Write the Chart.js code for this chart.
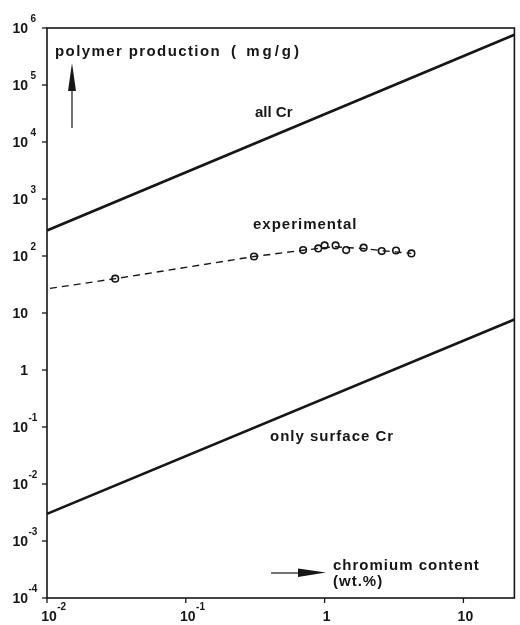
<!DOCTYPE html>
<html>
<head>
<meta charset="utf-8">
<title>Polymer production vs chromium content</title>
<script src="https://cdn.jsdelivr.net/npm/chart.js@4/dist/chart.umd.min.js"></script>
<style>
  html, body { margin: 0; padding: 0; background: #fff; }
  canvas { display: block; }
</style>
</head>
<body>
<canvas id="chart" width="520" height="625"></canvas>
<script>
// theoretical lines (all Cr active / only surface Cr active)
const allCrX = [0.01, 23.3];
const allCrY = [280, 7.6e5];
const surfaceCrX = [0.01, 23.3];
const surfaceCrY = [0.003, 7.7];

// measured productivities
const expX = [0.031, 0.31, 0.70, 0.90, 1.0, 1.2, 1.43, 1.91, 2.58, 3.27, 4.22];
const expY = [40, 98, 127, 136, 153, 153, 127, 140, 122, 125, 111];

// dashed trend through the measurements
const fitX = [0.0105, 0.031, 0.31, 0.70, 1.0, 1.2, 1.9, 2.6, 4.22];
const fitY = [27, 40, 98, 126, 140, 145, 135, 124, 111];

const xTicks = [0.01, 0.1, 1, 10];
const xTickLabels = [['10', '-2'], ['10', '-1'], ['1', ''], ['10', '']];
const yTicks = [1e6, 1e5, 1e4, 1e3, 1e2, 10, 1, 0.1, 0.01, 1e-3, 1e-4];
const yTickLabels = [
  ['10', '6'], ['10', '5'], ['10', '4'], ['10', '3'], ['10', '2'], ['10', ''],
  ['1', ''], ['10', '-1'], ['10', '-2'], ['10', '-3'], ['10', '-4']
];

const INK = '#161616';
const FONT = '"Liberation Sans", Arial, sans-serif';

function pts(xs, ys) {
  return xs.map((x, i) => ({ x, y: ys[i] }));
}

function drawPower(ctx, base, exp, x, y, mode) {
  ctx.font = `bold 14px ${FONT}`;
  ctx.textBaseline = 'middle';
  const bw = ctx.measureText(base).width;
  let bx;
  if (mode === 'right') {
    bx = x - bw;
  } else {
    bx = x - bw / 2;
  }
  ctx.textAlign = 'left';
  ctx.fillText(base, bx, y);
  if (exp) {
    ctx.font = `bold 10px ${FONT}`;
    ctx.fillText(exp, bx + bw + (exp[0] === '-' ? 0.5 : 2.5), y - 10);
  }
}

function label(ctx, text, x, y, spacing) {
  ctx.letterSpacing = spacing + 'px';
  ctx.fillText(text, x, y);
}

function arrowHead(ctx, tip, b1, b2) {
  ctx.beginPath();
  ctx.moveTo(tip[0], tip[1]);
  ctx.lineTo(b1[0], b1[1]);
  ctx.lineTo(b2[0], b2[1]);
  ctx.closePath();
  ctx.fill();
}

const frameAndLabels = {
  id: 'frameAndLabels',
  afterDraw(chart) {
    const { ctx, chartArea: a, scales: { x, y } } = chart;
    ctx.save();
    ctx.strokeStyle = INK;
    ctx.fillStyle = INK;

    // frame
    ctx.lineWidth = 1.6;
    ctx.strokeRect(a.left, a.top, a.right - a.left, a.bottom - a.top);

    // y axis ticks and labels
    ctx.lineWidth = 1.3;
    yTicks.forEach((v, i) => {
      const py = y.getPixelForValue(v);
      ctx.beginPath();
      ctx.moveTo(a.left - 5, py);
      ctx.lineTo(a.left, py);
      ctx.stroke();
      drawPower(ctx, yTickLabels[i][0], yTickLabels[i][1], 28, py + 1, 'right');
    });

    // x axis ticks and labels
    xTicks.forEach((v, i) => {
      const px = x.getPixelForValue(v);
      ctx.beginPath();
      ctx.moveTo(px, a.bottom);
      ctx.lineTo(px, a.bottom + 5);
      ctx.stroke();
      drawPower(ctx, xTickLabels[i][0], xTickLabels[i][1], px + 2, 617, 'center');
    });

    // annotations
    ctx.textAlign = 'left';
    ctx.textBaseline = 'middle';
    ctx.font = `bold 15px ${FONT}`;
    label(ctx, 'polymer production', 55, 52, 1.4);
    label(ctx, '( mg/g)', 231, 52, 3);
    label(ctx, 'all Cr', 255, 113, 0);
    label(ctx, 'experimental', 253, 225, 1);
    label(ctx, 'only surface Cr', 270, 437, 1);
    label(ctx, 'chromium content', 333, 566, 1);
    label(ctx, '(wt.%)', 333, 582, 1);
    ctx.letterSpacing = '0px';

    // direction arrows
    ctx.lineWidth = 1.2;
    ctx.beginPath();
    ctx.moveTo(72, 128);
    ctx.lineTo(72, 86);
    ctx.stroke();
    arrowHead(ctx, [72, 63], [68, 91], [76, 91]);

    ctx.beginPath();
    ctx.moveTo(271, 573);
    ctx.lineTo(300, 573);
    ctx.stroke();
    arrowHead(ctx, [326, 572.5], [298, 568.5], [298, 577]);

    ctx.restore();
  }
};

new Chart(document.getElementById('chart'), {
  type: 'scatter',
  data: {
    datasets: [
      { label: 'all Cr', data: pts(allCrX, allCrY), showLine: true, borderColor: INK, borderWidth: 2.6, pointRadius: 0 },
      { label: 'only surface Cr', data: pts(surfaceCrX, surfaceCrY), showLine: true, borderColor: INK, borderWidth: 2.6, pointRadius: 0 },
      { label: 'trend', data: pts(fitX, fitY), showLine: true, borderColor: INK, borderWidth: 1.4, borderDash: [7, 5], pointRadius: 0 },
      { label: 'experimental', data: pts(expX, expY), showLine: false, pointRadius: 3.3, pointBorderWidth: 1.6, pointBorderColor: INK, pointBackgroundColor: '#fff' }
    ]
  },
  options: {
    responsive: false,
    animation: false,
    layout: { padding: { left: 47, right: 2, top: 28, bottom: 27 } },
    plugins: { legend: { display: false }, tooltip: { enabled: false } },
    scales: {
      x: { type: 'logarithmic', min: 0.01, max: 23.3, display: false },
      y: { type: 'logarithmic', min: 1e-4, max: 1e6, display: false }
    }
  },
  plugins: [frameAndLabels]
});
</script>
</body>
</html>
